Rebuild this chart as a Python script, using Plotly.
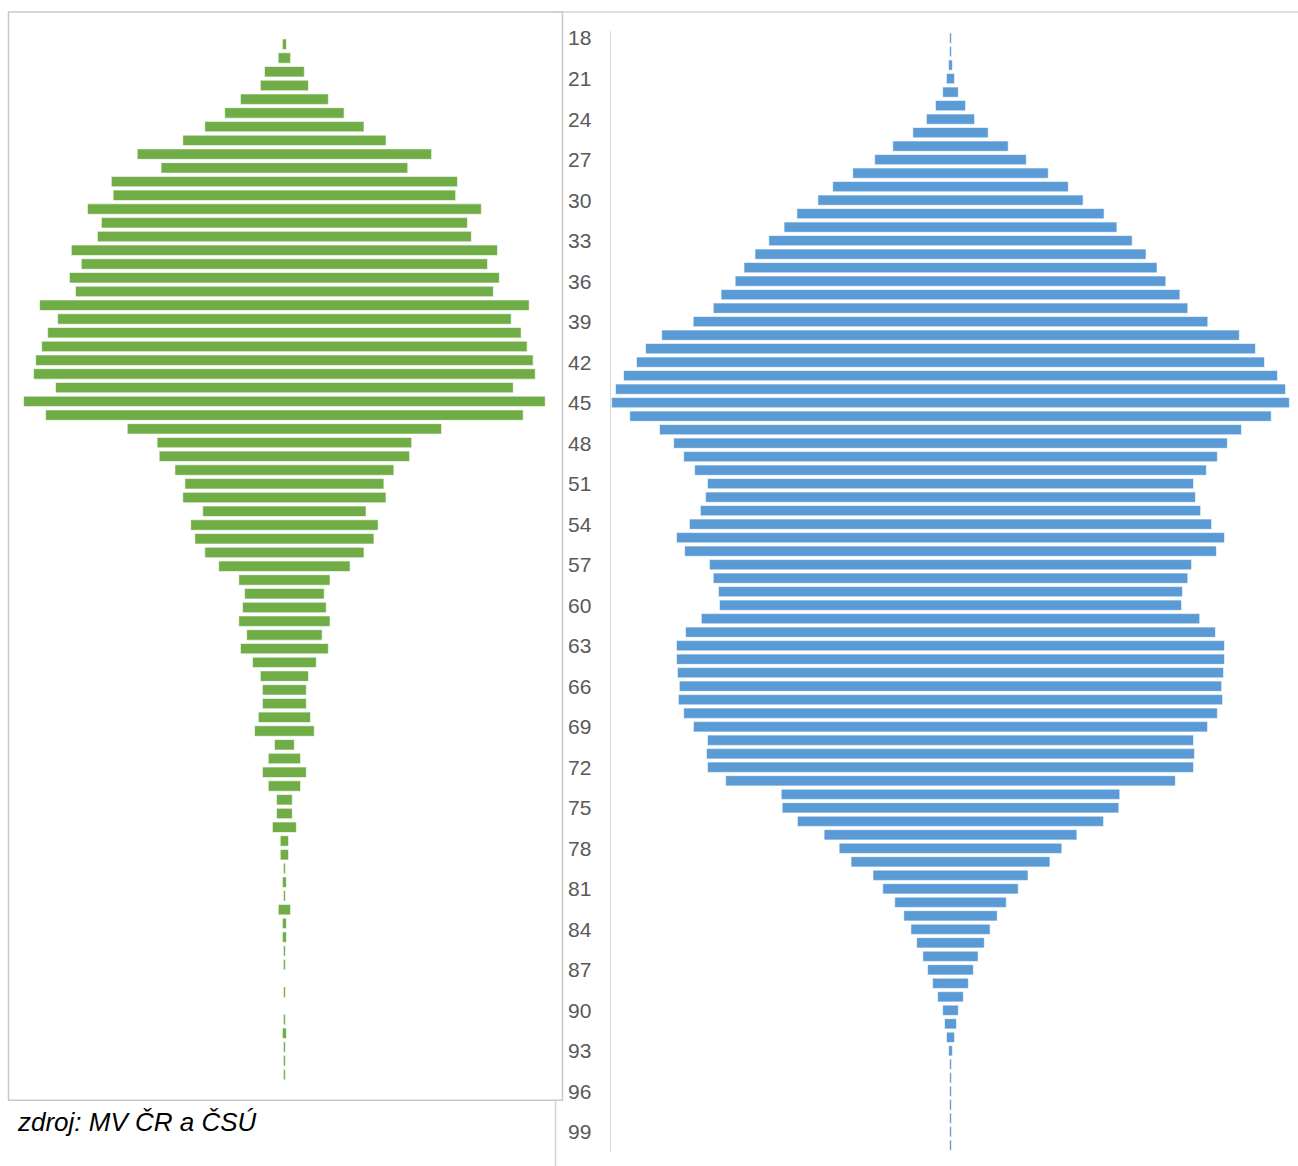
import plotly.graph_objects as go

W, H = 1298, 1166

# ---- data (relative widths) ----
green_ages = list(range(18, 94))
green_values = [4.1, 12.4, 39.8, 48.1, 87.9, 119.4, 159.2, 203.2, 294.4, 246.7,
                346.2, 342.5, 393.9, 366.1, 374.0, 426.2, 406.3, 429.9, 417.9, 489.6,
                453.6, 473.5, 485.5, 497.5, 501.7, 457.7, 521.6, 477.6, 314.3, 254.6,
                250.4, 218.9, 199.0, 203.2, 163.3, 187.4, 179.1, 159.2, 131.4, 91.2,
                79.6, 83.7, 91.2, 75.5, 87.9, 63.8, 48.1, 43.9, 43.9, 52.2,
                59.7, 19.9, 32.3, 43.9, 32.3, 15.8, 15.8, 24.0, 8.3, 8.3,
                2.0, 4.0, 2.0, 12.3, 4.0, 4.0, 2.0, 2.0, 0.0, 2.0,
                0.0, 2.0, 4.0, 2.0, 2.0, 2.0]

blue_ages = list(range(18, 101))
blue_values = [1.9, 1.9, 3.8, 8.1, 15.7, 30.1, 48.2, 75.4, 115.5, 151.7,
               195.6, 235.7, 265.3, 307.3, 333.0, 363.5, 391.2, 413.2, 430.8, 459.0,
               474.7, 514.8, 577.8, 610.2, 628.3, 654.1, 670.3, 678.0, 641.7, 582.1,
               553.9, 533.9, 511.9, 486.2, 490.0, 500.5, 522.4, 548.2, 532.0, 482.3,
               474.7, 464.2, 462.3, 498.6, 530.1, 548.2, 548.2, 546.3, 542.5, 544.4,
               533.9, 514.3, 486.2, 488.1, 486.2, 449.9, 338.7, 336.8, 306.3, 252.9,
               222.8, 199.0, 155.1, 135.5, 111.6, 93.5, 79.2, 67.7, 55.3, 45.8,
               35.8, 25.8, 15.7, 11.9, 8.1, 3.8, 1.9, 1.9, 1.9, 1.9,
               1.9, 1.9, 1.9]

tick_ages = list(range(18, 100, 3))
tick_labels = [str(a) for a in tick_ages]
source_text = "zdroj: MV ČR a ČSÚ"

GREEN = "#70AD47"
BLUE = "#5B9BD5"


def px_x(p):
    return p / W


def px_y(p):
    return 1 - p / H


fig = go.Figure()

fig.add_trace(go.Bar(
    y=green_ages, x=green_values, base=[-v / 2 for v in green_values],
    orientation="h", width=0.76, marker=dict(color=GREEN, line=dict(color="white", width=0.6)),
    xaxis="x", yaxis="y", showlegend=False, hoverinfo="skip"))

fig.add_trace(go.Bar(
    y=blue_ages, x=blue_values, base=[-v / 2 for v in blue_values],
    orientation="h", width=0.76, marker=dict(color=BLUE, line=dict(color="white", width=0.6)),
    xaxis="x2", yaxis="y2", showlegend=False, hoverinfo="skip"))

g_half = max(green_values) / 2 * 1.0138
b_half = max(blue_values) / 2 * 1.003

fig.update_layout(
    width=W, height=H,
    margin=dict(l=0, r=0, t=0, b=0),
    paper_bgcolor="white", plot_bgcolor="rgba(0,0,0,0)",
    xaxis=dict(domain=[px_x(20), px_x(548.8)], range=[-g_half, g_half],
               visible=False, anchor="y"),
    yaxis=dict(domain=[px_y(1081), px_y(32.5)], range=[93.5, 17.5],
               visible=False, anchor="x"),
    xaxis2=dict(domain=[px_x(610.6), px_x(1290.4)], range=[-b_half, b_half],
                visible=False, anchor="y2"),
    yaxis2=dict(domain=[px_y(1152), px_y(26.5)], range=[100.5, 17.5],
                anchor="x2", showline=True, linecolor="#d9d9d9", linewidth=1,
                showgrid=False, zeroline=False, ticks="",
                tickmode="array", tickvals=tick_ages, ticktext=tick_labels,
                ticklabelstandoff=14,
                tickfont=dict(family="Liberation Sans, Arial, sans-serif", size=21, color="#595959")),
    bargap=0.2,
    shapes=[
        dict(type="rect", xref="paper", yref="paper", layer="below",
             x0=px_x(555.5), y0=px_y(1180), x1=px_x(1310), y1=px_y(7),
             line=dict(color="#d4d4d4", width=1.5), fillcolor="white"),
        dict(type="rect", xref="paper", yref="paper", layer="below",
             x0=px_x(8.5), y0=px_y(1100), x1=px_x(562.5), y1=px_y(7),
             line=dict(color="#c8c8c8", width=1.5), fillcolor="white"),
    ],
    annotations=[
        dict(text=source_text, xref="paper", yref="paper",
             x=px_x(15), y=px_y(1122), xanchor="left", yanchor="middle",
             showarrow=False,
             font=dict(family="Liberation Sans, Arial, sans-serif", size=26,
                       color="black", style="italic")),
    ],
)

fig.write_html("out.html",
               config={"displayModeBar": False, "staticPlot": True},
               post_script="document.body.style.margin='0px';document.body.style.overflow='hidden';")
